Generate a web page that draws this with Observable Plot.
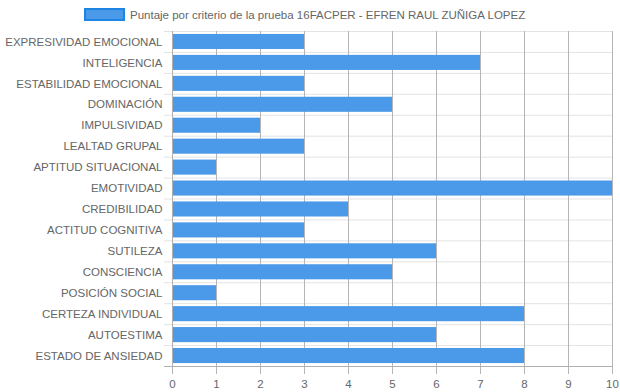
<!DOCTYPE html>
<html>
<head>
<meta charset="utf-8">
<script src="https://cdn.jsdelivr.net/npm/d3@7"></script>
<script src="https://cdn.jsdelivr.net/npm/@observablehq/plot@0.6"></script>
<style>
  html, body { margin: 0; padding: 0; background: #fff; }
  body { width: 620px; height: 392px; overflow: hidden; font-family: "Liberation Sans", Arial, Helvetica, sans-serif; }
  #legend { height: 28px; position: relative; font-size: 11.5px; color: #666; }
  #legend .box { position: absolute; left: 84px; top: 8px; width: 37px; height: 9px; background: #4b99e9; border: 2px solid #1e84e4; }
  #legend .lbl { position: absolute; left: 130px; top: 8px; line-height: 14px; white-space: nowrap; }
  svg { display: block; }
</style>
</head>
<body>
<div id="legend"><div class="box"></div><div class="lbl">Puntaje por criterio de la prueba 16FACPER - EFREN RAUL ZUÑIGA LOPEZ</div></div>
<div id="chart"></div>
<script>
const categories = [
  "EXPRESIVIDAD EMOCIONAL", "INTELIGENCIA", "ESTABILIDAD EMOCIONAL", "DOMINACIÓN",
  "IMPULSIVIDAD", "LEALTAD GRUPAL", "APTITUD SITUACIONAL", "EMOTIVIDAD",
  "CREDIBILIDAD", "ACTITUD COGNITIVA", "SUTILEZA", "CONSCIENCIA",
  "POSICIÓN SOCIAL", "CERTEZA INDIVIDUAL", "AUTOESTIMA", "ESTADO DE ANSIEDAD"
];
const values = [3, 7, 3, 5, 2, 3, 1, 10, 4, 3, 6, 5, 1, 8, 6, 8];
const xTicks = [0, 1, 2, 3, 4, 5, 6, 7, 8, 9, 10];

const data = categories.map((c, i) => ({category: c, value: values[i]}));

const W = 620, H = 364;
const mTop = 3, mBottom = 26, mLeft = 172, mRight = 8;
const step = (H - mTop - mBottom) / categories.length;

const chart = Plot.plot({
  width: W,
  height: H,
  marginTop: mTop,
  marginBottom: mBottom,
  marginLeft: mLeft,
  marginRight: mRight,
  style: {fontFamily: "'Liberation Sans', Arial, Helvetica, sans-serif", fontSize: "11.5px", color: "#666", background: "#fff"},
  x: {domain: [0, 10], ticks: xTicks, label: null},
  y: {domain: categories, paddingInner: 0.28, paddingOuter: 0.14, round: false, label: null},
  marks: [
    // horizontal grid lines at category boundaries (offset grid)
    Plot.ruleY(categories, {y: d => d, dy: -step / 2, stroke: "#e3e3e3", strokeWidth: 1, insetLeft: -8}),
    // vertical grid lines
    Plot.ruleX(xTicks.slice(1), {x: d => d, stroke: "#b5b5b5", strokeWidth: 1, insetBottom: -8}),
    Plot.barX(data, {y: "category", x: "value", fill: "#4b99e9"}),
    // y axis line
    Plot.ruleX([0], {stroke: "#b0b0b0", strokeWidth: 1, insetBottom: -8}),
    // x axis line
    Plot.ruleY([categories[categories.length - 1]], {dy: step / 2, stroke: "#b0b0b0", strokeWidth: 1, insetLeft: -8}),
    Plot.axisX({ticks: xTicks, tickSize: 0, tickPadding: 13, tickFormat: d => String(d), fill: "#666", fontSize: 11.5}),
    Plot.axisY({tickSize: 0, tickPadding: 10, fill: "#666", fontSize: 11.5})
  ]
});
document.getElementById("chart").appendChild(chart);
</script>
</body>
</html>
